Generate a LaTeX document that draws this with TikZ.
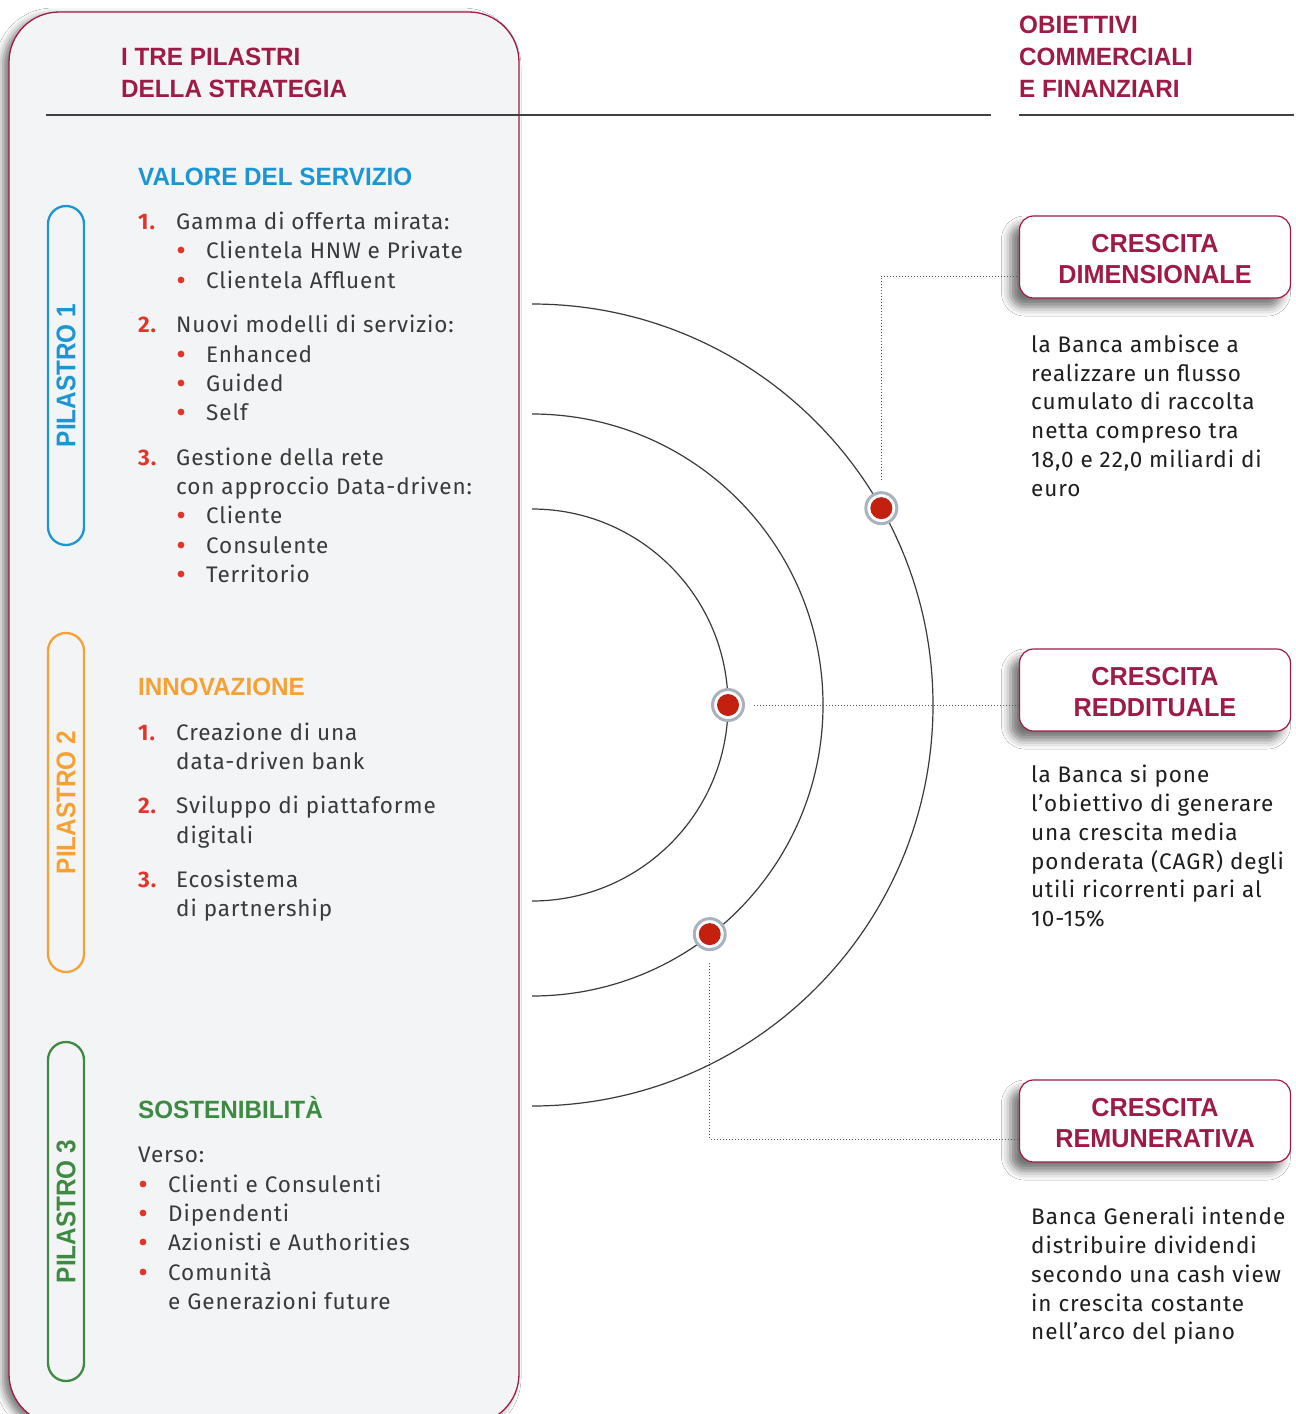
\documentclass[tikz,border=0pt]{standalone}
\usepackage{fontspec}
\setmainfont{Fira Sans}[LetterSpace=4]
\newfontfamily\headfont{Liberation Sans}[FakeStretch=0.97]
\newfontfamily\pilfont{Liberation Sans}[FakeStretch=0.9]
\usetikzlibrary{calc,shadows.blur}
\definecolor{crimson}{HTML}{9E1B45}
\definecolor{panelbg}{HTML}{F3F4F6}
\definecolor{pblue}{HTML}{1B96D3}
\definecolor{porange}{HTML}{F5A133}
\definecolor{pgreen}{HTML}{3F8A43}
\definecolor{numred}{HTML}{E2352A}
\definecolor{bodygray}{HTML}{3A3A3A}
\definecolor{descblack}{HTML}{1E1E1E}
\definecolor{dotred}{HTML}{C42010}
\definecolor{ringgray}{HTML}{A9B3BD}
\definecolor{arcgray}{HTML}{3A3A3A}
\definecolor{dotgray}{HTML}{555555}
\begin{document}
\begin{tikzpicture}[x=1pt,y=-1pt,
  body/.style={anchor=base west, inner sep=0pt, font=\fontsize{22.5}{27}\selectfont, text=bodygray},
  num/.style={anchor=base west, inner sep=0pt, font=\fontsize{22.5}{27}\selectfont\bfseries, text=numred},
  head/.style={anchor=base west, inner sep=0pt, font=\headfont\bfseries\fontsize{25}{30}\selectfont},
  desc/.style={anchor=base west, inner sep=0pt, font=\fontsize{22.5}{27}\selectfont, text=descblack},
  pbox/.style={rotate=90, draw, line width=2.3pt, rounded corners=18pt, minimum width=339pt, minimum height=36pt, inner sep=0pt, font=\pilfont\bfseries\fontsize{27}{30}\selectfont},
  obox/.style={draw=crimson, line width=1.2pt, fill=white, rounded corners=14pt, minimum width=271pt, minimum height=82pt, inner sep=0pt,
    blur shadow={shadow xshift=-9pt, shadow yshift=-9pt, shadow blur radius=9pt, shadow opacity=55}},
  olab/.style={align=center, inner sep=0pt, text=crimson, font=\headfont\bfseries\fontsize{26}{31}\selectfont},
  dot/.style={circle, fill=white, draw=ringgray, line width=3pt, minimum size=31pt, inner sep=0pt,
    path picture={\fill[dotred] (path picture bounding box.center) circle[radius=11pt];}},
  conn/.style={draw=dotgray, line width=1pt, dash pattern=on 1pt off 2pt},
  orbit/.style={draw=arcgray, line width=1.2pt},
  rule/.style={draw=black!75, line width=1.2pt}
]
\useasboundingbox (0,0) rectangle (1296,1414);
\fill[white] (0,0) rectangle (1296,1414);
% left panel
\begin{scope}
\clip (0,0) rectangle (1296,1414);
\path[draw=crimson, line width=1.3pt, fill=panelbg, rounded corners=50pt,
  blur shadow={shadow xshift=-6pt, shadow yshift=-4pt, shadow blur radius=8pt, shadow opacity=55}]
  (9,12) rectangle (519,1424);
\end{scope}

% headers
\node[head, text=crimson] (hl1) at (121,65) {I TRE PILASTRI};
\node[head, text=crimson] (hl2) at (121,97) {DELLA STRATEGIA};
\node[head, text=crimson] (hr1) at (1019,33) {OBIETTIVI};
\node[head, text=crimson] (hr2) at (1019,65) {COMMERCIALI};
\node[head, text=crimson] (hr3) at (1019,97) {E FINANZIARI};
\draw[rule] (46,115) -- (991,115);
\draw[rule] (1019,115) -- (1294,115);

% pillar boxes
\node[pbox, draw=pblue, text=pblue] (p1) at (66,375.5) {PILASTRO 1};
\node[pbox, draw=porange, text=porange] (p2) at (66,802.5) {PILASTRO 2};
\node[pbox, draw=pgreen, text=pgreen] (p3) at (66,1211.5) {PILASTRO 3};

% pillar 1
\node[head, text=pblue] (s1) at (138,185) {VALORE DEL SERVIZIO};
\node[num] (n11) at (138,229) {1.};
\node[body] (t11) at (176,229) {Gamma di offerta mirata:};
\fill[numred] (181,250) circle[radius=3.4pt];
\node[body] (t11a) at (206,258) {Clientela HNW e Private};
\fill[numred] (181,280) circle[radius=3.4pt];
\node[body] (t11b) at (206,288) {Clientela Affluent};
\node[num] (n12) at (138,332) {2.};
\node[body] (t12) at (176,332) {Nuovi modelli di servizio:};
\fill[numred] (181,354) circle[radius=3.4pt];
\node[body] (t12a) at (206,362) {Enhanced};
\fill[numred] (181,383) circle[radius=3.4pt];
\node[body] (t12b) at (206,391) {Guided};
\fill[numred] (181,412) circle[radius=3.4pt];
\node[body] (t12c) at (206,420) {Self};
\node[num] (n13) at (138,465) {3.};
\node[body] (t13) at (176,465) {Gestione della rete};
\node[body] (t13x) at (176,494) {con approccio Data-driven:};
\fill[numred] (181,515) circle[radius=3.4pt];
\node[body] (t13a) at (206,523) {Cliente};
\fill[numred] (181,545) circle[radius=3.4pt];
\node[body] (t13b) at (206,553) {Consulente};
\fill[numred] (181,574) circle[radius=3.4pt];
\node[body] (t13c) at (206,582) {Territorio};

% pillar 2
\node[head, text=porange] (s2) at (138,695) {INNOVAZIONE};
\node[num] (n21) at (138,740) {1.};
\node[body] (t21) at (176,740) {Creazione di una};
\node[body] (t21x) at (176,769.5) {data-driven bank};
\node[num] (n22) at (138,813) {2.};
\node[body] (t22) at (176,813) {Sviluppo di piattaforme};
\node[body] (t22x) at (176,843) {digitali};
\node[num] (n23) at (138,887) {3.};
\node[body] (t23) at (176,887) {Ecosistema};
\node[body] (t23x) at (176,916) {di partnership};

% pillar 3
\node[head, text=pgreen] (s3) at (138,1118) {SOSTENIBILITÀ};
\node[body] (t30) at (138,1162) {Verso:};
\fill[numred] (143,1184) circle[radius=3.4pt];
\node[body] (t31) at (168,1192) {Clienti e Consulenti};
\fill[numred] (143,1213) circle[radius=3.4pt];
\node[body] (t32) at (168,1221) {Dipendenti};
\fill[numred] (143,1242) circle[radius=3.4pt];
\node[body] (t33) at (168,1250) {Azionisti e Authorities};
\fill[numred] (143,1272) circle[radius=3.4pt];
\node[body] (t34) at (168,1280) {Comunità};
\node[body] (t34x) at (168,1309) {e Generazioni future};

% orbits
\coordinate (c) at (532,705);
\draw[orbit] ($(c)+(0,-196)$) arc[start angle=90, end angle=-90, radius=196pt];
\draw[orbit] ($(c)+(0,-291)$) arc[start angle=90, end angle=-90, radius=291pt];
\draw[orbit] ($(c)+(0,-401)$) arc[start angle=90, end angle=-90, radius=401pt];

% objective boxes
\node[obox] (b1) at (1155,257) {};
\node[olab] (b1l) at (1155,259.5) {CRESCITA\\DIMENSIONALE};
\node[obox] (b2) at (1155,690) {};
\node[olab] (b2l) at (1155,692.5) {CRESCITA\\REDDITUALE};
\node[obox] (b3) at (1155,1121) {};
\node[olab] (b3l) at (1155,1123.5) {CRESCITA\\REMUNERATIVA};

% dots
\node[dot] (d1) at ($(c)+(-29.4:401)$) {};
\node[dot] (d2) at ($(c)+(0:196)$) {};
\node[dot] (d3) at ($(c)+(52.2:290)$) {};

% connectors
\coordinate (k1) at ([yshift=-19pt]b1.west);
\coordinate (k3) at ([yshift=-18pt]b3.west);
\draw[conn] ($(d1)+(0,-28)$) |- (k1);
\draw[conn] ($(d2)+(26,0)$) -- (d2 -| b2.west);
\draw[conn] ($(d3)+(0,29)$) |- (k3);

% descriptions
\node[desc] (e11) at (1031,352) {la Banca ambisce a};
\node[desc] (e12) at (1031,381) {realizzare un flusso};
\node[desc] (e13) at (1031,409.5) {cumulato di raccolta};
\node[desc] (e14) at (1031,438.5) {netta compreso tra};
\node[desc] (e15) at (1031,467) {18,0 e 22,0 miliardi di};
\node[desc] (e16) at (1031,496) {euro};
\node[desc] (e21) at (1031,782) {la Banca si pone};
\node[desc] (e22) at (1031,811) {l’obiettivo di generare};
\node[desc] (e23) at (1031,840) {una crescita media};
\node[desc] (e24) at (1031,869) {ponderata (CAGR) degli};
\node[desc] (e25) at (1031,897.5) {utili ricorrenti pari al};
\node[desc] (e26) at (1031,926.5) {10-15\%};
\node[desc] (e31) at (1031,1224) {Banca Generali intende};
\node[desc] (e32) at (1031,1253) {distribuire dividendi};
\node[desc] (e33) at (1031,1282) {secondo una cash view};
\node[desc] (e34) at (1031,1311) {in crescita costante};
\node[desc] (e35) at (1031,1339.5) {nell’arco del piano};
\end{tikzpicture}
\end{document}
